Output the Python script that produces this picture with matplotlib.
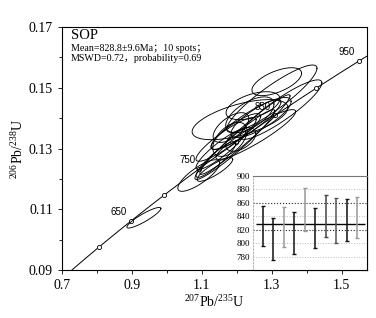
import numpy as np
import matplotlib
matplotlib.use("Agg")
import matplotlib.pyplot as plt

# ellipse data: centre, half-extent in x / y, correlation
ell_x = [0.934, 1.091, 1.137, 1.209, 1.300, 1.326, 1.246, 1.314, 1.169, 1.197, 1.154, 1.226, 1.183,
         1.269, 1.140, 1.254, 1.211, 1.180, 1.223, 1.194, 1.237]
ell_y = [0.1072, 0.1211, 0.1231, 0.1395, 0.1464, 0.1428, 0.1441, 0.1520, 0.1330, 0.1356, 0.1297, 0.1379, 0.1369,
         0.1402, 0.1264, 0.1346, 0.1330, 0.1330, 0.1346, 0.1313, 0.1411]
ell_sx = [0.0486, 0.060, 0.051, 0.137, 0.129, 0.117, 0.077, 0.071, 0.086, 0.071, 0.071, 0.100, 0.051,
          0.086, 0.057, 0.114, 0.043, 0.049, 0.129, 0.114, 0.069]
ell_sy = [0.0034, 0.0052, 0.0039, 0.0066, 0.0111, 0.0098, 0.0046, 0.0046, 0.0072, 0.0059, 0.0066, 0.0082, 0.0049,
          0.0066, 0.0059, 0.0082, 0.0039, 0.0056, 0.0131, 0.0115, 0.0059]
ell_rho = [0.90, 0.80, 0.85, 0.60, 0.90, 0.90, 0.50, 0.60, 0.90, 0.85, 0.90, 0.90, 0.60,
           0.80, 0.90, 0.92, 0.50, 0.50, 0.97, 0.96, 0.60]

marker_ages = [600, 650, 700, 750, 800, 850, 900, 950]
label_ages = [650, 750, 850, 950]

# weighted mean inset
spot_age = [825.5, 806.0, 824.0, 815.0, 850.0, 822.0, 840.0, 833.5, 834.5, 838.5]
spot_err = [30.0, 31.0, 29.5, 30.5, 31.5, 29.5, 31.5, 33.0, 31.0, 30.5]
spot_col = ['#111111', '#111111', '#999999', '#111111', '#999999', '#111111', '#444444', '#555555', '#111111', '#999999']
mean_age = 828.8

L238 = 1.55125e-10
L235 = 9.8485e-10


def concordia(t_ma):
    t = np.asarray(t_ma) * 1e6
    return np.exp(L235 * t) - 1, np.exp(L238 * t) - 1


serif = 'Liberation Serif'
plt.rcParams['font.family'] = [serif, 'Noto Sans CJK SC']
plt.rcParams['mathtext.fontset'] = 'custom'
plt.rcParams['mathtext.rm'] = serif

fig = plt.figure(figsize=(3.76, 3.18), dpi=100)
ax = fig.add_axes([0.165, 0.151, 0.811, 0.764])

# concordia curve
cx, cy = concordia(np.linspace(500, 1000, 400))
ax.plot(cx, cy, color='black', lw=0.7)
mx, my = concordia(marker_ages)
ax.plot(mx, my, 'o', ms=3, mfc='white', mec='black', mew=0.6)
for age in label_ages:
    x, y = concordia(age)
    ax.text(x - 0.012, y + 0.0012, str(age), ha='right', va='bottom',
            fontsize=7, family='Liberation Sans')

# error ellipses
th = np.linspace(0, 2 * np.pi, 200)
for x0, y0, sx, sy, r in zip(ell_x, ell_y, ell_sx, ell_sy, ell_rho):
    ex = x0 + sx * np.cos(th)
    ey = y0 + sy * (r * np.cos(th) + np.sqrt(1 - r ** 2) * np.sin(th))
    ax.plot(ex, ey, color='black', lw=0.65)

ax.set_xlim(0.7, 1.572)
ax.set_ylim(0.09, 0.17)
ax.set_xticks([0.7, 0.9, 1.1, 1.3, 1.5])
ax.set_xticks([0.8, 1.0, 1.2, 1.4], minor=True)
ax.set_yticks([0.09, 0.11, 0.13, 0.15, 0.17])
ax.set_yticks([0.10, 0.12, 0.14, 0.16], minor=True)
ax.xaxis.set_major_formatter(plt.FormatStrFormatter('%.1f'))
ax.yaxis.set_major_formatter(plt.FormatStrFormatter('%.2f'))
ax.tick_params(labelsize=10, length=3, width=0.6)
ax.tick_params(which='minor', length=2, width=0.6)
for s in ax.spines.values():
    s.set_linewidth(0.8)
ax.set_xlabel(r'$^{207}$Pb/$^{235}$U', fontsize=10, labelpad=1)
ax.set_ylabel(r'$^{206}$Pb/$^{238}$U', fontsize=10, labelpad=2)

ax.text(0.03, 0.99, 'SOP', transform=ax.transAxes, fontsize=10.5, va='top')
ax.text(0.03, 0.93, 'Mean=828.8±9.6Ma；10 spots；', transform=ax.transAxes, fontsize=7.2, va='top')
ax.text(0.03, 0.888, 'MSWD=0.72，probability=0.69', transform=ax.transAxes, fontsize=7.2, va='top')

# inset
ins = fig.add_axes([0.673, 0.151, 0.303, 0.296])
pos = np.arange(1, len(spot_age) + 1)
for g in [780, 800, 840, 880]:
    ins.axhline(g, color='#bbbbbb', lw=0.7, ls=':')
for g in [820, 860]:
    ins.axhline(g, color='#222222', lw=0.8, ls=':')
ins.hlines(mean_age, 0.33, 10.77, color='black', lw=1.0)
for p, a, e, c in zip(pos, spot_age, spot_err, spot_col):
    ins.errorbar(p, a, yerr=e, fmt='none', ecolor=c, elinewidth=1.1, capsize=1.2, capthick=1.0)
ins.set_xlim(0.04, 10.96)
ins.set_ylim(760, 900)
ins.set_xticks([])
ins.set_yticks([780, 800, 820, 840, 860, 880, 900])
ins.tick_params(labelsize=6.5, length=0, pad=2)
ins.spines['top'].set_color('#777777')
ins.spines['left'].set_color('#aaaaaa')
ins.spines['left'].set_linestyle((0, (2, 2)))
ins.spines['left'].set_linewidth(0.6)
ins.spines['right'].set_linewidth(0.8)
ins.spines['bottom'].set_linewidth(0.8)

fig.savefig('out.png', dpi=100)
